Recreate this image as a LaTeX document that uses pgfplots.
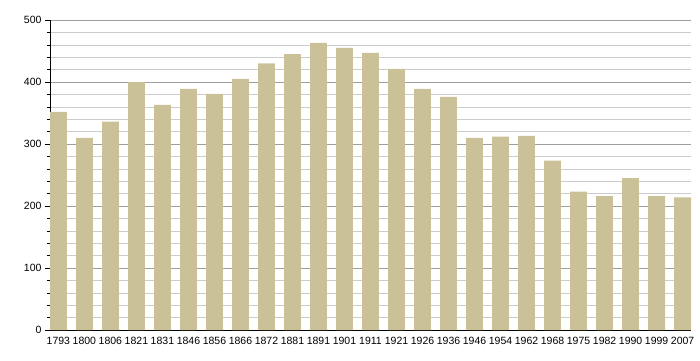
\documentclass[border=0pt]{standalone}
\usepackage{pgfplots}
\pgfplotsset{compat=1.18}
\usepackage{fontspec}
\setmainfont{Liberation Sans}
\definecolor{barc}{RGB}{202,193,153}
\begin{document}
\begin{tikzpicture}[x=1pt,y=1pt]
\useasboundingbox (0,0) rectangle (700,360);
\begin{axis}[
  at={(50pt,30pt)}, anchor=south west,
  scale only axis, width=641pt, height=310pt,
  xmin=-0.3225, xmax=24.3225, ymin=0, ymax=500,
  axis x line*=bottom, axis y line*=left,
  axis line style={black, line width=0.8pt},
  xtick=data,
  xticklabels={1793,1800,1806,1821,1831,1846,1856,1866,1872,1881,1891,1901,1911,1921,1926,1936,1946,1954,1962,1968,1975,1982,1990,1999,2007},
  x tick style={draw=none},
  ytick={0,100,...,500},
  minor y tick num=4,
  tick align=outside,
  major tick length=5pt, minor tick length=3pt,
  y tick style={black, line width=0.6pt},
  ymajorgrids, yminorgrids,
  major grid style={gray!75, line width=0.6pt},
  minor grid style={gray!40, line width=0.6pt},
  tick label style={font=\fontsize{10.5}{12}\selectfont},
  /pgf/number format/assume math mode=true,
  xticklabel style={yshift=1pt},
  clip=false,
]
\addplot[ybar, bar width=0.645, fill=barc, draw=none, bar shift=0pt] coordinates {
(0,352) (1,310) (2,336) (3,400) (4,363) (5,389) (6,381) (7,405) (8,430) (9,445)
(10,463) (11,455) (12,447) (13,421) (14,389) (15,376) (16,310) (17,312) (18,313)
(19,273) (20,223) (21,216) (22,245) (23,216) (24,214)
};
\end{axis}
\end{tikzpicture}
\end{document}
